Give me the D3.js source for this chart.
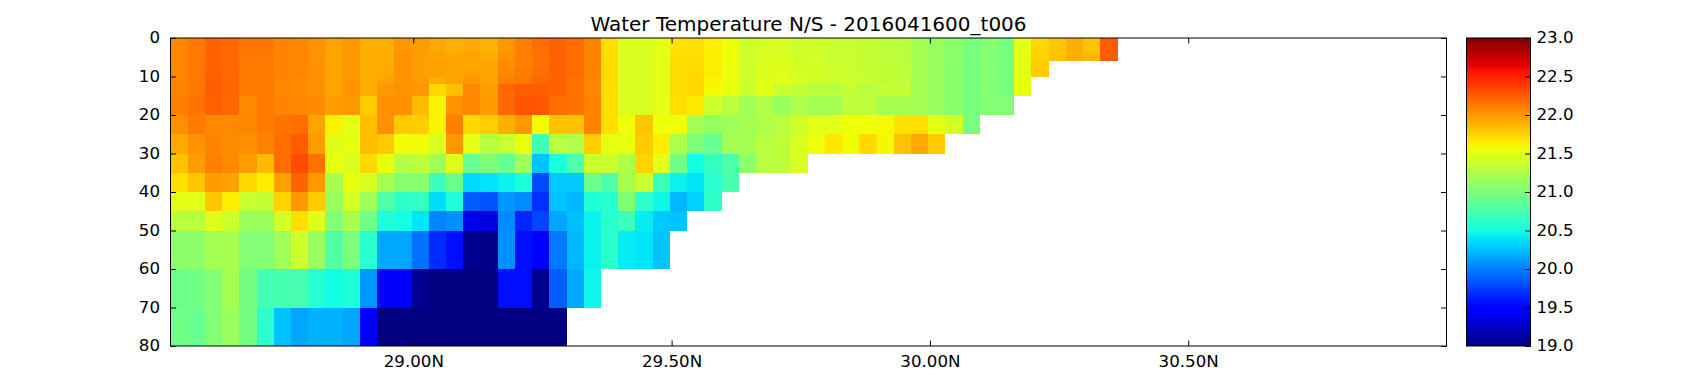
<!DOCTYPE html>
<html>
<head>
<meta charset="utf-8">
<script src="https://cdn.jsdelivr.net/npm/d3@7"></script>
<style>
  html, body { margin: 0; padding: 0; background: #fff; }
  text { font-family: "DejaVu Sans", sans-serif; fill: #000; }
</style>
</head>
<body>
<div id="graph"></div>
<script>
// depth levels (m), one row of temperatures per band
const depths = [0, 2, 4, 6, 8, 10, 12, 15, 20, 25, 30, 35, 40, 45, 50, 60, 70, 80];
const latTicks = [29.0, 29.5, 30.0, 30.5];
const depthTicks = [0, 10, 20, 30, 40, 50, 60, 70, 80];
const cbarTicks = [19.0, 19.5, 20.0, 20.5, 21.0, 21.5, 22.0, 22.5, 23.0];

const t00 = [22.07,22.13,22.22,22.2,22.14,22.14,22.08,22.07,22.02,21.95,22.0,21.9,21.9,22.0,21.98,21.93,21.9,21.93,21.88,22.0,22.1,22.17,22.22,22.18,22.08,21.7,21.45,21.45,21.51,21.68,21.7,21.63,21.55,21.4,21.43,21.45,21.39,21.41,21.37,21.37,21.35,21.32,21.3,21.2,21.15,21.07,20.98,21.05,20.98,21.5,21.73,21.8,21.9,21.82,22.25];
const t02 = [22.07,22.13,22.22,22.2,22.14,22.14,22.08,22.07,22.02,21.95,22.0,21.9,21.9,22.0,21.98,21.93,21.9,21.93,21.88,22.0,22.1,22.17,22.22,22.18,22.08,21.7,21.45,21.45,21.51,21.68,21.7,21.63,21.55,21.4,21.43,21.45,21.39,21.41,21.37,21.37,21.35,21.32,21.3,21.2,21.15,21.07,20.98,21.05,20.98,21.5,21.73,21.8,21.9,21.82,22.25];
const t04 = [22.07,22.13,22.22,22.2,22.13,22.13,22.08,22.07,22.02,21.95,22.0,21.9,21.9,22.02,21.97,21.96,21.94,21.95,21.92,22.03,22.1,22.16,22.22,22.18,22.08,21.71,21.45,21.45,21.51,21.7,21.7,21.63,21.55,21.4,21.44,21.47,21.4,21.42,21.37,21.37,21.35,21.32,21.3,21.2,21.15,21.07,20.98,21.05,20.98,21.5,21.75,21.82,21.9,21.87,22.25];
const t06 = [22.07,22.13,22.22,22.2,22.13,22.13,22.08,22.07,22.03,21.95,22.0,21.9,21.91,22.02,21.97,21.96,21.95,21.94,21.95,22.05,22.1,22.16,22.22,22.18,22.08,21.71,21.45,21.45,21.51,21.71,21.71,21.63,21.55,21.4,21.46,21.49,21.42,21.42,21.39,21.37,21.35,21.34,21.32,21.2,21.15,21.07,20.98,21.05,20.98,21.5,21.78];
const t08 = [22.07,22.13,22.23,22.2,22.13,22.13,22.08,22.07,22.03,21.95,22.0,21.9,21.93,22.02,21.97,21.96,21.95,21.96,21.95,22.07,22.12,22.18,22.22,22.18,22.08,21.71,21.45,21.45,21.51,21.71,21.72,21.63,21.55,21.4,21.47,21.5,21.43,21.43,21.39,21.38,21.36,21.34,21.32,21.2,21.15,21.07,20.98,21.05,20.98,21.5,21.78];
const t10 = [22.08,22.13,22.24,22.21,22.13,22.13,22.07,22.05,22.03,21.94,22.01,21.9,21.95,22.02,21.98,21.9,21.95,22.0,21.95,22.1,22.13,22.2,22.22,22.16,22.08,21.71,21.45,21.45,21.51,21.71,21.72,21.6,21.53,21.38,21.49,21.5,21.43,21.39,21.39,21.39,21.37,21.34,21.32,21.2,21.15,21.07,20.98,21.05,20.98,21.52];
const t12 = [22.08,22.14,22.24,22.21,22.13,22.13,22.07,22.05,22.03,21.95,22.01,21.9,22.0,22.02,22.0,21.72,21.84,22.06,21.98,22.2,22.25,22.25,22.22,22.15,22.07,21.7,21.45,21.45,21.51,21.71,21.72,21.58,21.53,21.4,21.5,21.37,21.35,21.3,21.3,21.35,21.29,21.35,21.35,21.2,21.15,21.07,20.98,21.05,20.98,21.53];
const t15 = [22.1,22.15,22.23,22.2,22.06,22.12,22.08,22.07,22.05,21.98,22.0,21.78,22.03,22.03,21.85,21.6,22.02,22.07,21.98,22.2,22.28,22.27,22.18,22.15,22.08,21.7,21.45,21.45,21.51,21.7,21.65,21.39,21.31,21.19,21.26,21.14,21.24,21.19,21.2,21.32,21.32,21.22,21.22,21.2,21.15,21.07,20.98,21.03,21.03];
const t20 = [22.04,22.12,22.06,22.06,22.07,22.12,22.15,22.18,21.95,21.62,21.5,21.83,22.02,21.78,21.77,21.6,22.1,21.72,21.77,21.9,22.0,21.58,21.82,21.82,22.08,21.7,21.56,21.8,21.56,21.56,21.19,21.12,21.16,21.2,21.24,21.3,21.4,21.5,21.5,21.56,21.56,21.58,21.68,21.7,21.52,21.42,20.98];
const t25 = [21.93,22.02,22.08,22.05,22.04,22.09,22.18,22.25,21.98,21.49,21.52,21.83,21.78,21.57,21.57,21.45,22.0,21.5,21.29,21.37,21.53,20.7,21.29,21.24,21.77,21.52,21.53,21.78,21.64,21.24,21.0,20.9,21.2,21.2,21.29,21.32,21.45,21.56,21.66,21.57,21.72,21.59,21.82,21.93,21.78];
const t30 = [21.82,21.98,22.1,22.06,21.98,21.85,22.18,22.32,22.16,21.52,21.46,21.72,21.52,21.27,21.32,21.17,21.48,20.9,21.0,20.9,21.17,20.27,20.53,20.78,21.38,21.38,21.24,21.74,21.5,20.95,20.49,20.65,20.78,21.08,21.29,21.32,21.45];
const t35 = [21.7,21.8,21.98,21.96,21.72,21.63,21.96,22.22,22.0,21.22,21.53,21.45,21.2,21.07,21.07,20.68,20.92,20.35,20.39,20.45,20.53,19.79,20.29,20.29,20.92,20.78,21.2,21.38,20.68,20.45,20.4,20.6,20.75];
const t40 = [21.5,21.5,21.8,21.63,21.37,21.35,21.75,22.0,21.78,21.14,21.43,21.17,20.8,20.63,20.65,20.37,20.55,19.87,19.83,20.09,20.04,19.69,20.27,20.22,20.55,20.6,21.02,20.62,20.47,20.22,20.32,20.62];
const t45 = [21.3,21.3,21.47,21.39,21.15,21.15,21.43,21.7,21.48,21.03,21.22,20.95,20.55,20.5,20.4,20.02,20.07,19.37,19.32,20.04,19.64,19.77,20.15,20.25,20.45,20.6,20.68,20.43,20.29,20.27];
const t50 = [21.08,21.08,21.19,21.22,21.03,21.03,21.17,21.39,21.14,20.8,21.0,20.6,20.17,20.15,19.94,19.67,19.55,19.05,19.03,20.07,19.55,19.45,19.97,20.22,20.45,20.6,20.42,20.4,20.27];
const t60 = [20.92,20.95,21.03,21.2,20.97,20.72,20.75,20.75,20.58,20.49,20.55,20.09,19.43,19.43,19.05,19.0,19.0,19.0,19.0,19.55,19.55,19.05,19.87,20.17,20.47];
const t70 = [20.95,20.9,21.03,21.15,20.97,20.62,20.27,20.15,20.2,20.2,20.15,19.43,19.0,19.0,19.0,19.0,19.0,19.0,19.0,19.0,19.0,19.0,19.0];
const rows = [t00,t02,t04,t06,t08,t10,t12,t15,t20,t25,t30,t35,t40,t45,t50,t60,t70];

var w = 1700, h = 384;
var left = 170.5, right = 1446.5, top_ = 38, bottom = 346;
var cbLeft = 1466.5, cbRight = 1530.5;
var tickLen = 5.5;

const latStart = 28.53, latStep = 1/30;

var x = d3.scaleLinear().domain([latStart, 31.0]).range([left, right]);
var y = d3.scaleLinear().domain([0, 80]).range([top_, bottom]);
var c = d3.scaleLinear().domain([19, 23]).range([bottom, top_]);

// matplotlib jet segments
var red = d3.scaleLinear().domain([0, .35, .66, .89, 1]).range([0, 0, 1, 1, .5]);
var green = d3.scaleLinear().domain([0, .125, .375, .64, .91, 1]).range([0, 0, 1, 1, 0, 0]);
var blue = d3.scaleLinear().domain([0, .11, .34, .65, 1]).range([.5, 1, 1, 0, 0]);
function jet(v) {
  let t = Math.max(0, Math.min(1, (v - 19) / 4));
  return d3.rgb(red(t) * 255, green(t) * 255, blue(t) * 255).formatHex();
}

var svg = d3.select('#graph')
  .append('svg')
  .attr("width", w)
  .attr("height", h)
  .style("display", "block")
  .style("background", "#fff");

// cells
let cells = [];
rows.forEach((row, k) => {
  row.forEach((v, i) => {
    cells.push({k: k, i: i, v: v});
  });
});

svg.append("g").selectAll("rect")
  .data(cells)
  .enter()
  .append("rect")
  .attr("x", d => x(latStart + d.i * latStep))
  .attr("y", d => y(depths[d.k]))
  .attr("width", latStep * (x(1) - x(0)))
  .attr("height", d => y(depths[d.k + 1]) - y(depths[d.k]))
  .attr("shape-rendering", "crispEdges")
  .style("fill", d => jet(d.v));

// colour bar, one strip per pixel row
let levels = d3.range(bottom - top_).map(i => c.invert(bottom - i - .5));
svg.append("g").selectAll("rect")
  .data(levels)
  .enter()
  .append("rect")
  .attr("x", cbLeft)
  .attr("width", cbRight - cbLeft)
  .attr("y", d => c(d) - .5)
  .attr("height", 1)
  .attr("shape-rendering", "crispEdges")
  .style("fill", d => jet(d));

function styleAxis(g) {
  g.select(".domain").remove();
  g.selectAll(".tick line").attr("stroke", "#000").attr("stroke-width", 1);
  g.selectAll(".tick text").style("font-size", "16.67px").style("font-family", '"DejaVu Sans"');
}

// inward ticks on all four sides
svg.append("g").attr("transform", `translate(0,${bottom})`)
  .call(d3.axisBottom(x).tickValues(latTicks).tickSizeInner(-tickLen).tickPadding(tickLen + 4).tickFormat(d => d3.format(".2f")(d) + "N"))
  .call(styleAxis);
svg.append("g").attr("transform", `translate(0,${top_})`)
  .call(d3.axisTop(x).tickValues(latTicks).tickSizeInner(-tickLen).tickFormat(""))
  .call(styleAxis);
svg.append("g").attr("transform", `translate(${left},0)`)
  .call(d3.axisLeft(y).tickValues(depthTicks).tickSizeInner(-tickLen).tickPadding(tickLen + 5).tickFormat(d3.format("d")))
  .call(styleAxis)
  .call(g => g.selectAll(".tick text").attr("dy", "0.27em"));
svg.append("g").attr("transform", `translate(${right},0)`)
  .call(d3.axisRight(y).tickValues(depthTicks).tickSizeInner(-tickLen).tickFormat(""))
  .call(styleAxis);
svg.append("g").attr("transform", `translate(${cbRight},0)`)
  .call(d3.axisRight(c).tickValues(cbarTicks).tickSizeInner(-tickLen).tickPadding(tickLen + 0.5).tickFormat(d3.format(".1f")))
  .call(styleAxis)
  .call(g => g.selectAll(".tick text").attr("dy", "0.27em"));

// frames
[[left, right], [cbLeft, cbRight]].forEach(f => {
  svg.append("rect")
    .attr("x", f[0])
    .attr("y", top_)
    .attr("width", f[1] - f[0])
    .attr("height", bottom - top_)
    .attr("fill", "none")
    .attr("stroke", "#000")
    .attr("stroke-width", 1);
});

svg.append("text")
  .attr("x", (left + right) / 2)
  .attr("y", 31)
  .attr("text-anchor", "middle")
  .style("font-size", "20px")
  .text("Water Temperature N/S - 2016041600_t006");
</script>
</body>
</html>
